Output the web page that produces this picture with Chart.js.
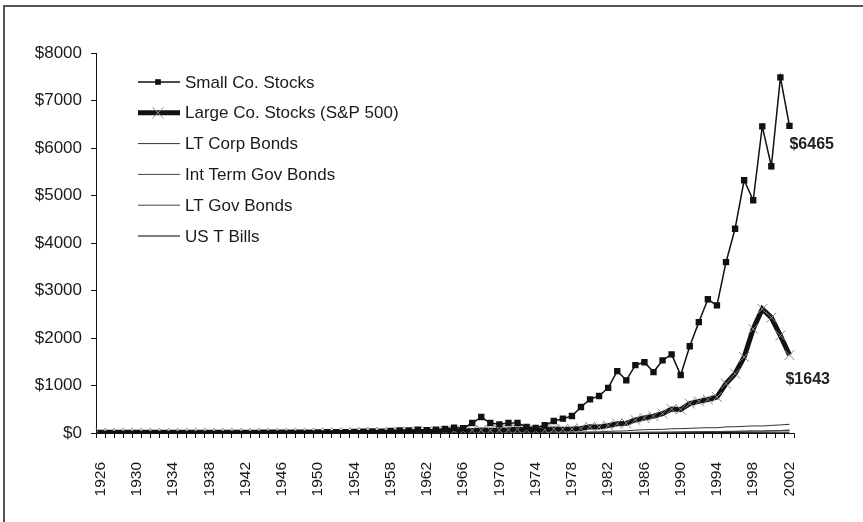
<!DOCTYPE html>
<html>
<head>
<meta charset="utf-8">
<script src="https://cdn.jsdelivr.net/npm/chart.js@4.4.1/dist/chart.umd.min.js"></script>
<style>
html, body { margin: 0; padding: 0; background: #fff; overflow: hidden; }
#frame { position: absolute; left: 3px; top: 5px; width: 900px; height: 600px; border-top: 2px solid #555; border-left: 2px solid #555; }
#wrap { position: absolute; left: 0; top: 0; width: 863px; height: 522px; }
</style>
</head>
<body>
<div id="frame"></div>
<div id="wrap"><canvas id="growth" width="863" height="522"></canvas></div>
<script>
var years = ['1926','1927','1928','1929','1930','1931','1932','1933','1934','1935',
  '1936','1937','1938','1939','1940','1941','1942','1943','1944','1945',
  '1946','1947','1948','1949','1950','1951','1952','1953','1954','1955',
  '1956','1957','1958','1959','1960','1961','1962','1963','1964','1965',
  '1966','1967','1968','1969','1970','1971','1972','1973','1974','1975',
  '1976','1977','1978','1979','1980','1981','1982','1983','1984','1985',
  '1986','1987','1988','1989','1990','1991','1992','1993','1994','1995',
  '1996','1997','1998','1999','2000','2001','2002'];

var seriesNames = ['Small Co. Stocks', 'Large Co. Stocks (S&P 500)', 'LT Corp Bonds',
  'Int Term Gov Bonds', 'LT Gov Bonds', 'US T Bills'];

var smallCo = [1,1,2,1,1,0,0,1,1,1,
  2,1,1,1,1,1,2,3,5,9,
  8,8,8,9,14,15,16,15,24,30,
  32,28,45,52,52,70,60,70,85,110,
  100,210,336,210,183,210,210,126,105,162,
  252,302,358,547,709,780,950,1304,1108,1430,
  1490,1283,1529,1655,1220,1826,2334,2815,2686,3596,
  4300,5321,4900,6456,5615,7487,6465];

var largeCo = [1,1,2,2,1,1,1,1,1,2,
  2,1,2,2,2,1,2,2,3,4,
  3,4,4,4,6,7,9,9,13,17,
  18,16,23,26,26,33,30,37,44,49,
  44,55,61,56,58,66,79,67,49,68,
  84,78,83,95,130,125,155,195,205,275,
  316,355,408,505,495,620,667,705,757,1039,
  1249,1600,2190,2610,2430,2050,1643];

var ltCorp = [1,1,1,1,1,1,2,2,2,2,
  2,2,2,3,3,3,3,3,3,4,
  4,4,4,4,4,4,4,4,5,5,
  5,5,5,5,6,6,6,7,7,7,
  7,8,8,8,9,10,11,11,12,14,
  17,18,19,20,22,25,35,40,45,60,
  70,72,78,88,92,98,106,112,110,128,
  132,140,150,148,160,170,183];

var intGov = [1,1,1,1,1,1,1,1,1,1,
  1,1,1,1,2,2,2,2,2,2,
  2,2,2,2,2,2,2,2,2,2,
  2,2,2,2,3,3,3,3,3,3,
  3,3,3,4,4,4,5,5,5,5,
  6,6,6,7,7,8,10,11,12,15,
  17,18,19,21,23,26,28,31,30,34,
  35,38,41,41,45,49,55];

var ltGov = [1,1,1,1,1,1,1,1,2,2,
  2,2,2,2,2,2,2,2,2,2,
  2,2,2,2,2,2,2,2,3,3,
  3,3,3,3,3,3,3,3,3,3,
  3,3,3,3,4,4,4,4,4,5,
  5,5,5,5,5,5,7,8,9,11,
  14,14,15,17,18,21,23,27,25,33,
  33,38,43,41,49,51,64];

var tBills = [1,1,1,1,1,1,1,1,1,1,
  1,1,1,1,1,1,1,1,1,1,
  1,1,1,1,1,1,1,1,1,1,
  1,1,1,1,1,2,2,2,2,2,
  2,2,2,2,2,2,3,3,3,3,
  3,4,4,4,5,5,6,6,7,7,
  8,8,9,9,10,11,11,11,12,12,
  13,14,14,15,16,17,17];

var yTicks = [0, 1000, 2000, 3000, 4000, 5000, 6000, 7000, 8000];

var labelFont = "'Liberation Sans', Arial, sans-serif";

// legend + end labels drawn by hand
var notesPlugin = {
  id: 'notes',
  afterDatasetsDraw: function(chart) {
    var ctx = chart.ctx;
    var ca = chart.chartArea;
    var x0 = ca.left + 42;
    var y0 = ca.top + 29;
    ctx.save();
    chart.data.datasets.forEach(function(ds, i) {
      var y = y0 + i * 30.8;
      ctx.strokeStyle = ds.borderColor;
      ctx.lineWidth = ds.borderWidth;
      ctx.beginPath();
      ctx.moveTo(x0, y);
      ctx.lineTo(x0 + 42, y);
      ctx.stroke();
      if (ds.pointRadius > 0) {
        ctx.fillStyle = ds.pointBackgroundColor;
        ctx.strokeStyle = ds.pointBorderColor;
        ctx.lineWidth = ds.pointBorderWidth;
        Chart.helpers.drawPoint(ctx, {
          pointStyle: ds.pointStyle,
          radius: ds.legendRadius || ds.pointRadius,
          borderWidth: ds.pointBorderWidth,
          rotation: 0
        }, x0 + 20, y);
      }
      ctx.fillStyle = '#1a1a1a';
      ctx.font = '17px ' + labelFont;
      ctx.textAlign = 'left';
      ctx.textBaseline = 'middle';
      ctx.fillText(seriesNames[i], x0 + 47, y + 1);
    });

    ctx.font = 'bold 16px ' + labelFont;
    ctx.fillStyle = '#222';
    ctx.textAlign = 'left';
    ctx.textBaseline = 'middle';
    var m0 = chart.getDatasetMeta(0).data;
    var p0 = m0[m0.length - 1];
    ctx.fillText('$' + smallCo[smallCo.length - 1], p0.x, p0.y + 19);
    var m1 = chart.getDatasetMeta(1).data;
    var p1 = m1[m1.length - 1];
    ctx.fillText('$' + largeCo[largeCo.length - 1], p1.x - 4, p1.y + 25);
    ctx.restore();
  }
};

new Chart(document.getElementById('growth'), {
  type: 'line',
  data: {
    labels: years,
    datasets: [{
      label: seriesNames[0],
      data: smallCo,
      borderColor: '#111',
      borderWidth: 1.5,
      pointStyle: 'rect',
      pointRadius: 4.5,
      pointBackgroundColor: '#111',
      pointBorderColor: '#111',
      pointBorderWidth: 0,
      legendRadius: 4,
      tension: 0
    }, {
      label: seriesNames[1],
      data: largeCo,
      borderColor: '#111',
      borderWidth: 5,
      pointStyle: 'crossRot',
      pointRadius: 7,
      pointBackgroundColor: '#888',
      pointBorderColor: '#888',
      pointBorderWidth: 1,
      legendRadius: 8,
      tension: 0
    }, {
      label: seriesNames[2],
      data: ltCorp,
      borderColor: '#333',
      borderWidth: 1,
      pointRadius: 0,
      tension: 0
    }, {
      label: seriesNames[3],
      data: intGov,
      borderColor: '#444',
      borderWidth: 1,
      pointRadius: 0,
      tension: 0
    }, {
      label: seriesNames[4],
      data: ltGov,
      borderColor: '#444',
      borderWidth: 1,
      pointRadius: 0,
      tension: 0
    }, {
      label: seriesNames[5],
      data: tBills,
      borderColor: '#000',
      borderWidth: 1,
      pointRadius: 0,
      tension: 0
    }]
  },
  options: {
    responsive: false,
    animation: false,
    layout: { padding: { top: 53, right: 69, bottom: 0, left: 0 } },
    plugins: {
      legend: { display: false },
      tooltip: { enabled: false }
    },
    scales: {
      x: {
        type: 'category',
        offset: true,
        afterFit: function(s) { s.height = 89; },
        grid: { offset: true, drawOnChartArea: false, tickLength: 5, color: '#111', lineWidth: 1 },
        border: { display: true, color: '#111', width: 1 },
        ticks: {
          autoSkip: false,
          maxRotation: 90,
          minRotation: 90,
          padding: 24,
          color: '#1a1a1a',
          font: { family: labelFont, size: 15.5 },
          callback: function(v, i) { return i % 4 === 0 ? years[i] : ''; }
        }
      },
      y: {
        min: yTicks[0],
        max: yTicks[yTicks.length - 1],
        afterFit: function(s) { s.width = 96; },
        afterBuildTicks: function(s) { s.ticks = yTicks.map(function(v) { return { value: v }; }); },
        grid: { drawOnChartArea: false, tickLength: 5, color: '#111', lineWidth: 1 },
        border: { display: true, color: '#111', width: 1 },
        ticks: {
          padding: 9,
          color: '#1a1a1a',
          font: { family: labelFont, size: 17 },
          callback: function(v) { return '$' + v; }
        }
      }
    }
  },
  plugins: [notesPlugin]
});
</script>
</body>
</html>
